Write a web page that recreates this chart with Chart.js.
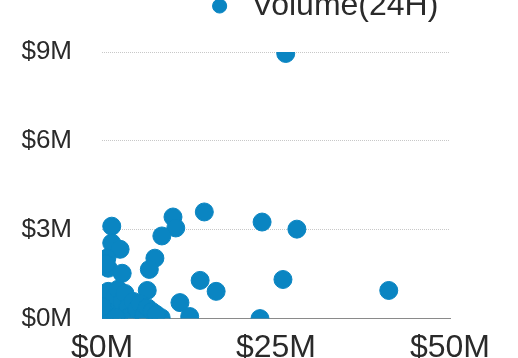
<!DOCTYPE html>
<html>
<head>
<meta charset="utf-8">
<script src="https://cdn.jsdelivr.net/npm/chart.js@4"></script>
<style>
  html, body { margin: 0; padding: 0; width: 518px; height: 358px; overflow: hidden; background: #fff; }
  #wrap { position: absolute; left: 0; top: -20px; width: 642px; height: 397px; }
</style>
</head>
<body>
<div id="wrap"><canvas id="c"></canvas></div>
<script>
// Values in millions of dollars
const seriesLabel = 'Volume(24H)';
const marketCapM = [26.4, 23.0, 28.0, 14.7, 10.2, 10.6, 8.6, 1.4, 1.4, 2.6, 0.7, 0.9, 2.9, 7.6, 6.8, 6.5,
  14.1, 16.4, 26.0, 11.2, 12.6, 22.7, 8.5, 41.2, 0.4, 0.6, 0.9, 1.1, 1.4, 1.9, 2.3, 2.6, 2.9, 3.3, 3.7,
  4.0, 4.5, 5.0, 5.5, 6.0, 6.5, 7.2, 7.8, 0.3, 0.05, 2.0, 0.5];
const volumeM = [8.95, 3.26, 3.02, 3.60, 3.43, 3.06, 2.79, 3.12, 2.55, 2.34, 2.04, 1.70, 1.53, 2.04, 1.66, 0.95,
  1.29, 0.92, 1.32, 0.54, 0.07, 0.00, 0.03, 0.95, 0.24, 0.58, 0.92, 0.07, 0.41, 0.75, 0.99, 0.17, 0.58, 0.85, 0.37,
  0.07, 0.58, 0.31, 0.51, 0.10, 0.37, 0.24, 0.14, 0.00, 0.40, 0.03, 1.85];
const xTickValues = [0, 25, 50];
const yTickValues = [0, 3, 6, 9];

const points = marketCapM.map((x, i) => ({ x: x, y: volumeM[i] }));
const fmt = v => '$' + v + 'M';
const FONT = '"Liberation Sans", Arial, Helvetica, sans-serif';

const legendGap = {
  id: 'legendGap',
  beforeInit(chart) {
    if (chart.legend) {
      const fit = chart.legend.fit;
      chart.legend.fit = function () { fit.call(this); this.height += 20; };
    }
  }
};

new Chart(document.getElementById('c'), {
  type: 'scatter',
  data: {
    datasets: [{
      label: seriesLabel,
      data: points,
      backgroundColor: '#0a85c2',
      borderColor: '#0a85c2',
      borderWidth: 1,
      pointRadius: 9,
      pointHoverRadius: 9
    }]
  },
  plugins: [legendGap],
  options: {
    responsive: true,
    maintainAspectRatio: false,
    animation: false,
    layout: { padding: 0 },
    plugins: {
      tooltip: { enabled: false },
      legend: {
        display: true,
        position: 'top',
        labels: {
          usePointStyle: true,
          pointStyle: 'circle',
          boxWidth: 32,
          boxHeight: 10,
          padding: 10,
          color: '#2a2a2a',
          font: { family: FONT, size: 32 }
        }
      }
    },
    scales: {
      x: {
        type: 'linear',
        min: 0, max: 50,
        afterBuildTicks: s => { s.ticks = xTickValues.map(v => ({ value: v })); },
        grid: { display: false, drawTicks: false },
        border: { display: true, color: '#8a8a8a', width: 1 },
        ticks: {
          padding: 10,
          color: '#2a2a2a',
          font: { family: FONT, size: 32 },
          maxRotation: 0,
          callback: v => fmt(v)
        }
      },
      y: {
        type: 'linear',
        min: 0, max: 9,
        afterBuildTicks: s => { s.ticks = yTickValues.map(v => ({ value: v })); },
        afterFit: s => { s.width = 102; },
        grid: { display: true, drawTicks: false, color: '#c8c8c8', lineWidth: 1 },
        border: { display: false, dash: [1, 1] },
        ticks: {
          padding: 30,
          color: '#2a2a2a',
          font: { family: FONT, size: 26 },
          callback: v => fmt(v)
        }
      },
      yPad: {
        type: 'linear',
        position: 'right',
        display: true,
        afterFit: s => { s.width = 192; },
        grid: { display: false, drawTicks: false },
        border: { display: false },
        ticks: { display: false }
      }
    }
  }
});
</script>
</body>
</html>
